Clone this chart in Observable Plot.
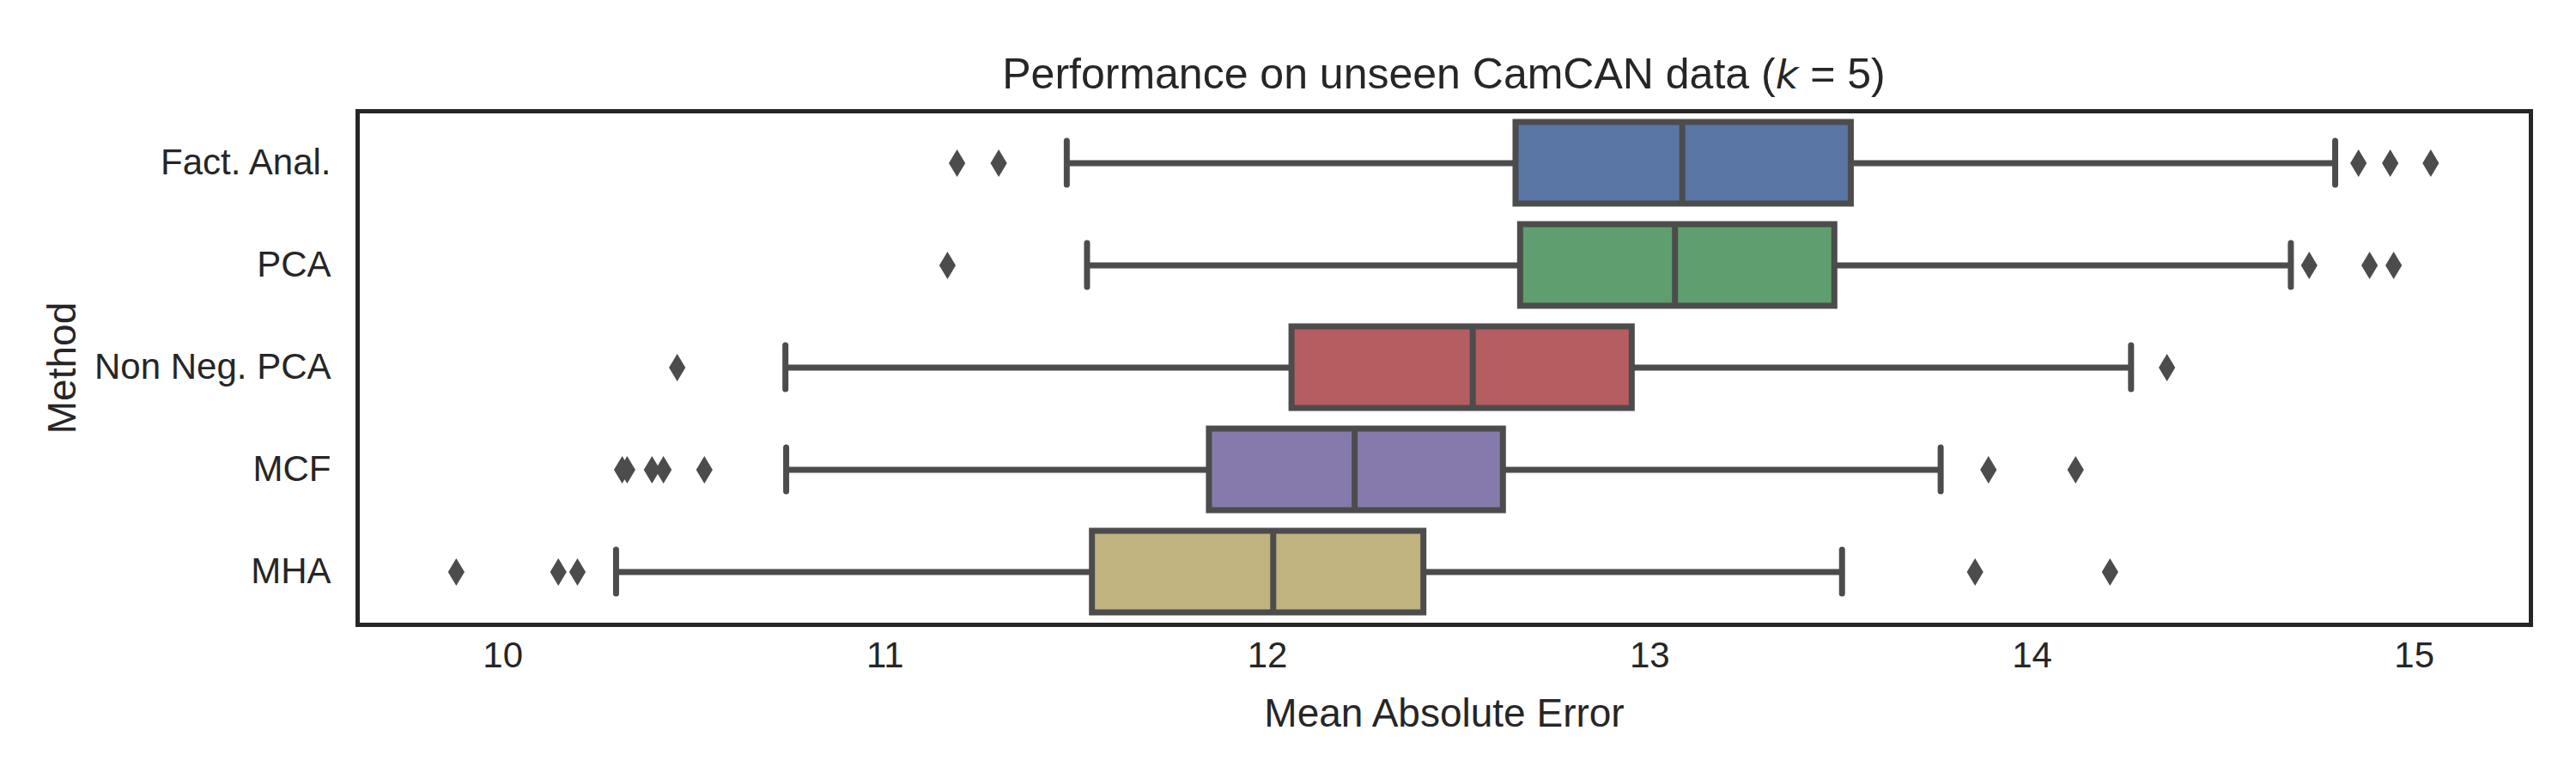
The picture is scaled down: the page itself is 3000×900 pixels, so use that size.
<!DOCTYPE html>
<html>
<head>
<meta charset="utf-8">
<script src="https://cdn.jsdelivr.net/npm/d3@7"></script>
<script src="https://cdn.jsdelivr.net/npm/@observablehq/plot@0.6"></script>
<style>
  html, body { margin: 0; padding: 0; background: #ffffff; }
  #wrap { position: relative; width: 3000px; height: 900px; font-family: "Liberation Sans", Arial, sans-serif; color: #262626; }
  #title { position: absolute; left: 416px; width: 2531px; top: 56px; text-align: center; font-size: 50px; line-height: 60px; white-space: nowrap; }
  #title i { font-family: "DejaVu Sans", sans-serif; font-size: 46px; }
</style>
</head>
<body>
<div id="wrap">
  <div id="title">Performance on unseen CamCAN data (<i>k</i> = 5)</div>
</div>
<script>
// ---- data ----
const methods   = ["Fact. Anal.", "PCA", "Non Neg. PCA", "MCF", "MHA"];
const whiskerLo = [11.475, 11.528, 10.739, 10.741, 10.296];
const q1        = [12.650, 12.662, 12.064, 11.848, 11.542];
const median    = [13.085, 13.066, 12.537, 12.228, 12.015];
const q3        = [13.527, 13.484, 12.954, 12.617, 12.409];
const whiskerHi = [14.793, 14.677, 14.259, 13.761, 13.503];
const outliersFactAnal = [11.188, 11.297, 14.854, 14.937, 15.043];
const outliersPCA      = [11.163, 14.725, 14.883, 14.946];
const outliersNonNeg   = [10.456, 14.353];
const outliersMCF      = [10.312, 10.325, 10.390, 10.420, 10.527, 13.886, 14.114];
const outliersMHA      = [9.878, 10.145, 10.195, 13.851, 14.204];
const boxColors = ["#5975a4", "#5f9e6e", "#b55d60", "#857aab", "#c1b37f"];
const xTicks = [10, 11, 12, 13, 14, 15];
const xLabel = "Mean Absolute Error";
const yLabel = "Method";

// ---- tables built from the arrays ----
const boxes = methods.map((m, i) => ({
  method: m, lo: whiskerLo[i], q1: q1[i], med: median[i], q3: q3[i], hi: whiskerHi[i], color: boxColors[i]
}));
const outlierLists = [outliersFactAnal, outliersPCA, outliersNonNeg, outliersMCF, outliersMHA];
const outliers = outlierLists.flatMap((vals, i) => vals.map(v => ({method: methods[i], value: v})));

const gray = "#4c4c4c";
const ink = "#262626";
const lw = 7;

// thin diamond like matplotlib's "d" marker
const thinDiamond = {
  draw(context, size) {
    const h = Math.sqrt(size / Math.PI);
    const w = h * 0.6;
    context.moveTo(0, -h);
    context.lineTo(w, 0);
    context.lineTo(0, h);
    context.lineTo(-w, 0);
    context.closePath();
  }
};

const chart = Plot.plot({
  width: 3000,
  height: 900,
  marginLeft: 416,
  marginRight: 53,
  marginTop: 129,
  marginBottom: 173,
  style: { fontFamily: "'Liberation Sans', Arial, sans-serif", background: "#ffffff", color: ink },
  x: { domain: [9.62, 15.305] },
  y: { domain: methods, paddingInner: 0.2, paddingOuter: 0.1 },
  marks: [
    // whiskers
    Plot.ruleY(boxes, { y: "method", x1: "lo", x2: "q1", stroke: gray, strokeWidth: lw }),
    Plot.ruleY(boxes, { y: "method", x1: "q3", x2: "hi", stroke: gray, strokeWidth: lw }),
    // caps
    Plot.tickX(boxes, { x: "lo", y: "method", stroke: gray, strokeWidth: lw, strokeLinecap: "round", insetTop: 22, insetBottom: 22 }),
    Plot.tickX(boxes, { x: "hi", y: "method", stroke: gray, strokeWidth: lw, strokeLinecap: "round", insetTop: 22, insetBottom: 22 }),
    // boxes
    Plot.barX(boxes, { y: "method", x1: "q1", x2: "q3", fill: "color", stroke: gray, strokeWidth: lw }),
    // medians
    Plot.tickX(boxes, { x: "med", y: "method", stroke: gray, strokeWidth: lw }),
    // outliers
    Plot.dot(outliers, { x: "value", y: "method", symbol: thinDiamond, r: 16, fill: gray, stroke: "none" }),
    // frame
    Plot.frame({ stroke: ink, strokeWidth: 5 }),
    // axes
    Plot.axisX({ ticks: xTicks, tickSize: 0, tickPadding: 20, fontSize: 42, label: null, tickFormat: d => String(d), color: ink }),
    Plot.axisY({ tickSize: 0, tickPadding: 31, fontSize: 42, label: null, color: ink }),
    // axis titles
    Plot.text([xLabel], { text: d => d, frameAnchor: "bottom", dy: 104, fontSize: 46, fill: ink, lineAnchor: "middle", textAnchor: "middle" }),
    Plot.text([yLabel], { text: d => d, frameAnchor: "left", dx: -343, rotate: -90, fontSize: 46, fill: ink, lineAnchor: "middle", textAnchor: "middle" })
  ]
});
chart.style.position = "absolute";
chart.style.left = "0px";
chart.style.top = "0px";
const wrap = document.getElementById("wrap");
wrap.insertBefore(chart, wrap.firstChild);
</script>
</body>
</html>
